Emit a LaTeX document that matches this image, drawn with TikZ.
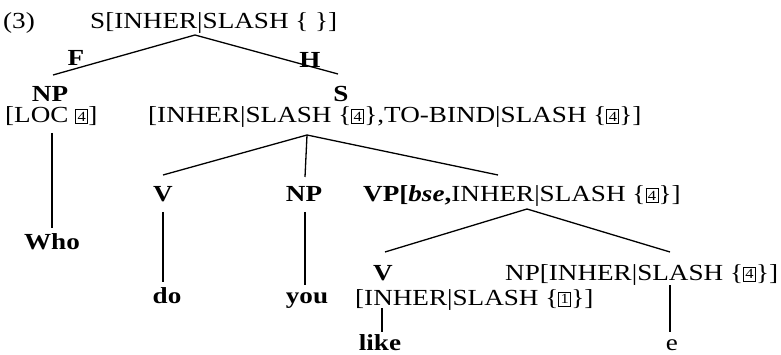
\documentclass[tikz,border=0pt]{standalone}
\usepackage{fontspec}
\setmainfont[FakeStretch=1.18]{Liberation Serif}
\newcommand\bx[1]{{\setlength\fboxsep{0pt}\setlength\fboxrule{1pt}\raisebox{-0.5pt}{\fbox{\parbox[b][13pt][c]{11pt}{\centering\fontsize{14}{14}\selectfont #1}}}}}
\newcommand\vb{\textbar}
\begin{document}
\begin{tikzpicture}[x=1pt,y=-1pt,
  lab/.style={inner sep=0pt,anchor=base,font=\fontsize{23}{23}\selectfont},
  labw/.style={lab,anchor=base west},
  cat/.style={lab,font=\fontsize{23}{23}\selectfont\bfseries},
  br/.style={line width=1.3pt}]
\useasboundingbox (0,0) rectangle (781,355);
% labels
\node[labw] (num) at (3,29) {(3)};
\node[labw] (top) at (90,29) {S[INHER\vb SLASH \{\ \}]};
\node[cat] (F) at (76,66) {F};
\node[cat] (H) at (310,68) {H};
\node[cat] (np1) at (50,102) {NP};
\node[cat] (s1) at (341,102) {S};
\node[labw] (loc) at (5,123) {[LOC \bx{4}]};
\node[labw] (sfeat) at (148,123) {[INHER\vb SLASH \{\bx{4}\},TO-BIND\vb SLASH \{\bx{4}\}]};
\node[cat] (v1) at (163,202) {V};
\node[cat] (np2) at (304,202) {NP};
\node[labw] (vp) at (363,202) {\textbf{VP[\textit{bse},}INHER\vb SLASH \{\bx{4}\}]};
\node[cat] (who) at (52,250) {Who};
\node[cat] (do) at (167,303) {do};
\node[cat] (you) at (307,303) {you};
\node[cat] (v2) at (383,280) {V};
\node[labw] (vfeat) at (355,305) {[INHER\vb SLASH \{\bx{1}\}]};
\node[labw] (np3) at (505,280) {NP[INHER\vb SLASH \{\bx{4}\}]};
\node[cat] (like) at (380,350) {like};
\node[lab] (e) at (672,350) {e};
% branch points
\coordinate (a0) at (195,35);
\coordinate (l1) at (53,75);
\coordinate (r1) at (338,74);
\coordinate (w0) at (52,133);
\coordinate (w1) at (52,228);
\coordinate (a1) at (307,135);
\coordinate (b1) at (163,175);
\coordinate (b2) at (305,177);
\coordinate (b3) at (498,175);
\coordinate (d0) at (163,212);
\coordinate (d1) at (163,282);
\coordinate (y0) at (305,212);
\coordinate (y1) at (305,285);
\coordinate (a2) at (527,209);
\coordinate (c1) at (385,252);
\coordinate (c2) at (670,252);
\coordinate (k0) at (382,308);
\coordinate (k1) at (382,332);
\coordinate (e0) at (670,285);
\coordinate (e1) at (670,332);
% branches
\draw[br] (l1) -- (a0) -- (r1);
\draw[br] (w0) -- (w1);
\draw[br] (b1) -- (a1) -- (b3);
\draw[br] (a1) -- (b2);
\draw[br] (d0) -- (d1);
\draw[br] (y0) -- (y1);
\draw[br] (c1) -- (a2) -- (c2);
\draw[br] (k0) -- (k1);
\draw[br] (e0) -- (e1);
\end{tikzpicture}
\end{document}
